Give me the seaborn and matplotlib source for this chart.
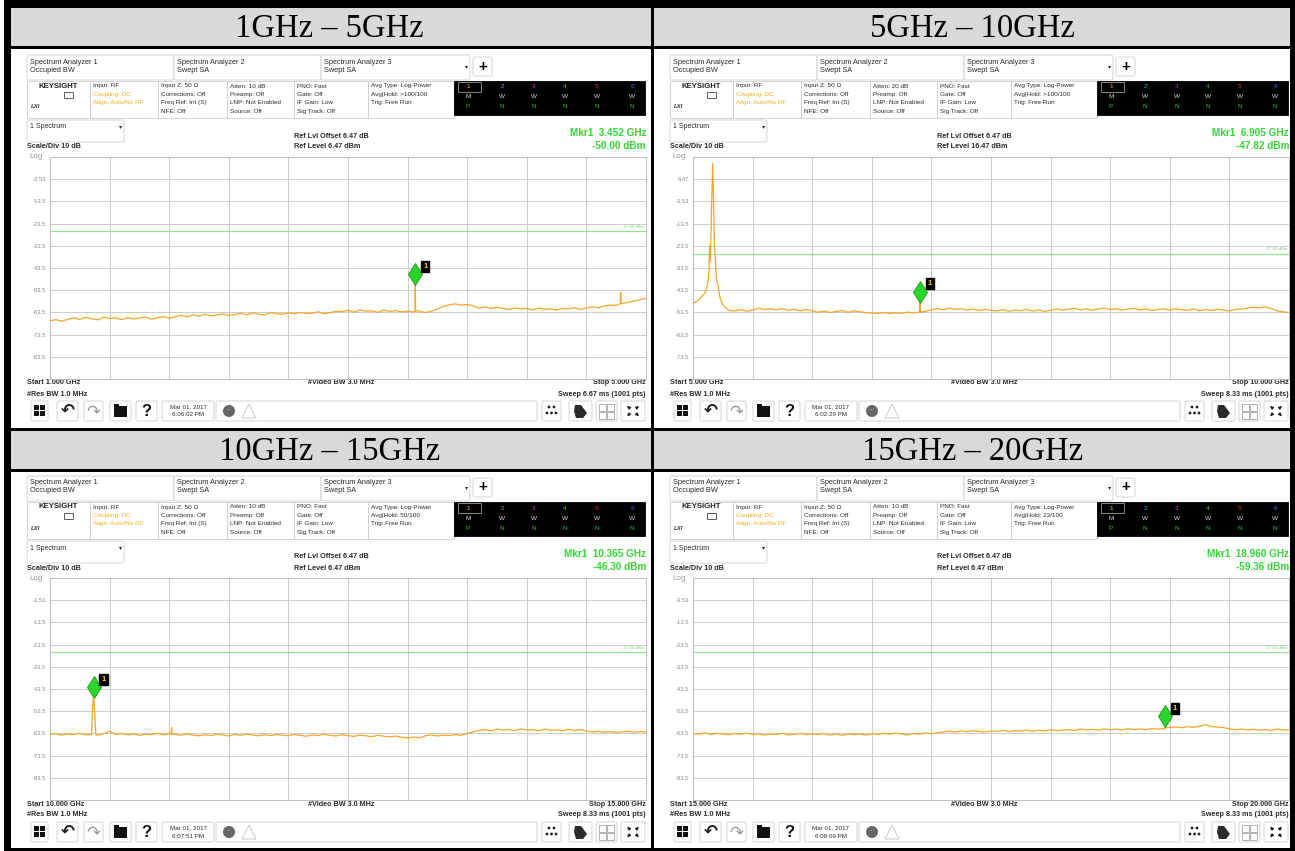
import numpy as np
import pandas as pd
import matplotlib
matplotlib.use("Agg")
import matplotlib.pyplot as plt
import seaborn as sns
from matplotlib.patches import Rectangle, FancyBboxPatch, Polygon, Circle
from matplotlib import transforms

# ---- values ----
titles = ["1GHz – 5GHz", "5GHz – 10GHz", "10GHz – 15GHz", "15GHz – 20GHz"]
start_ghz = [1.0, 5.0, 10.0, 15.0]
stop_ghz = [5.0, 10.0, 15.0, 20.0]
ref_level = [6.47, 16.47, 6.47, 6.47]
atten_db = [10, 20, 10, 10]
avg_hold = [">100/100", ">100/100", "50/100", "23/100"]
sweep_ms = ["6.67", "8.33", "8.33", "8.33"]
timestamps = ["6:06:02 PM", "6:02:29 PM", "6:07:51 PM", "6:08:09 PM"]
mkr_freq = [3.452, 6.905, 10.365, 18.960]
mkr_level = [-50.00, -47.82, -46.30, -59.36]
limit_dbm = -27.0

# noise floor, 101 points evenly over each span (dBm)
p1_floor = [-67.3, -66.8, -67.5, -66.6,
            -66.0, -66.7, -65.8, -66.4, -66.9, -65.7, -66.3, -66.0, -66.8, -65.9, -66.5, -66.1, -65.6, -66.6, -66.0, -65.4, -66.2,
            -65.5, -64.8, -65.6, -64.6, -65.2, -64.4, -65.0, -64.7, -64.2, -64.9,
            -64.5, -63.9, -64.6, -63.8, -64.3, -64.7, -63.6, -64.1, -64.4, -63.7, -64.2, -63.5, -64.0, -63.9, -63.2, -64.1, -63.6, -63.0,
            -63.2, -62.6, -63.4, -62.4, -63.0, -62.8, -63.5, -62.5, -63.1, -62.7, -63.3, -62.9,
            -63.4, -62.9, -63.6, -63.0, -62.0,
            -60.8, -60.1, -59.7, -60.3, -59.9, -60.6,
            -61.6, -61.0, -61.8, -61.2, -61.7,
            -62.2, -61.5, -62.0, -61.7, -62.4, -61.6, -62.1, -61.9, -62.5, -61.8, -62.0, -61.4, -62.2, -61.6,
            -61.0, -61.5, -60.6, -60.2, -60.4,
            -59.6, -59.0, -58.4, -57.8, -57.2]
p1_peak_freq = [3.450, 3.452, 3.454, 4.828, 4.830, 4.832]
p1_peak_level = [-63.0, -50.0, -62.8, -59.6, -54.5, -59.5]

p2_floor = [-49.6, -47.8, -44.8, -20.0, -39.0,
            -50.2, -52.6,
            -52.9, -52.3, -53.0, -52.5,
            -51.6, -52.2, -51.9, -52.4, -51.8, -52.6, -52.1, -52.8, -52.3, -52.9,
            -53.4, -52.9, -53.6, -53.1, -52.7, -53.5, -52.8, -53.2, -53.6, -53.9,
            -54.0, -53.6, -54.1, -53.7, -53.9, -53.4, -53.8, -53.3,
            -53.0, -52.4, -51.8, -52.3, -51.6, -52.1,
            -51.9, -52.5, -52.0, -52.7, -52.2, -52.6,
            -52.9, -52.3, -53.0, -52.5, -52.8, -52.2, -52.9, -52.4, -53.1, -52.6, -52.0, -52.5,
            -52.1, -51.7, -52.4, -51.9, -52.6, -52.0, -51.6, -52.3, -51.8, -52.5,
            -52.1, -51.7, -52.4, -52.0, -52.7, -52.2, -51.9, -52.5, -52.0, -52.3,
            -52.6, -52.0, -52.8, -52.3, -52.7, -52.1, -52.5, -52.9, -52.2, -52.0, -51.6,
            -51.2, -51.5, -51.0, -51.8,
            -52.8, -53.3, -53.5]
p2_peak_freq = [5.115, 5.125, 5.133, 5.140, 5.146, 5.156, 5.165, 5.172, 5.180, 5.188, 5.195,
                5.210, 5.225, 6.903, 6.905, 6.907]
p2_peak_level = [-42.5, -40.0, -35.5, -23.5, -30.5, -6.0, 13.5, -1.0, -24.0, -30.0, -37.5,
                 -41.5, -46.5, -53.6, -47.8, -53.4]

p3_floor = [-64.0, -63.6, -64.3, -63.8, -64.1, -63.5, -64.2,
            -64.0,
            -64.3, -63.7, -62.5, -64.0, -63.6, -64.2, -63.8, -64.4, -63.9, -64.1, -63.5, -64.2, -63.7,
            -64.0, -64.4, -63.8, -64.3, -64.6, -64.1, -64.5, -63.9, -64.2, -64.7, -64.0, -64.4, -63.8, -64.3, -64.6, -64.1, -64.5, -64.0,
            -64.3, -64.6, -64.0, -64.4, -64.8, -64.2, -64.5, -63.9, -64.4, -64.7, -64.1, -64.5, -64.9, -64.3, -64.6, -65.0, -64.4, -64.8, -65.1, -64.7,
            -65.3, -65.6, -65.2, -65.5,
            -64.6, -64.2, -64.7, -64.3, -64.5, -64.0, -64.4, -63.6, -62.8,
            -62.2, -61.8, -62.4, -61.6, -62.1, -61.7, -62.3, -61.5, -62.0, -61.8, -62.4, -61.6, -62.1, -61.9, -62.3, -61.7, -62.2, -61.8,
            -62.5, -62.9, -62.6, -63.0, -62.7, -63.1, -62.8, -62.6, -63.0, -62.7, -62.9]
p3_peak_freq = [10.345, 10.355, 10.365, 10.375, 10.385, 11.015, 11.020, 11.025]
p3_peak_level = [-64.0, -54.0, -46.3, -54.0, -64.2, -63.8, -60.9, -63.9]

p4_floor = [-63.6, -63.9, -63.3, -64.0, -63.5, -63.8, -64.2, -63.6, -63.9, -63.4, -64.1, -63.7, -64.3, -63.8, -64.0, -63.5, -64.2, -63.9, -63.6, -64.1, -63.8,
            -64.0, -63.6, -64.3, -63.9, -64.4, -63.7, -64.1, -63.8, -64.3, -63.6, -64.0, -63.5, -63.9, -63.4, -63.8, -64.2, -63.6, -63.9, -63.3, -63.7, -63.2,
            -62.9, -62.5, -63.0, -62.4, -62.8, -62.3, -62.7, -62.9, -62.4, -62.6, -62.2, -62.7, -62.3, -62.5, -62.0, -62.6, -62.1, -62.4, -61.9, -62.3, -62.0,
            -61.8, -62.2, -61.6, -62.0, -61.7, -62.1, -61.5, -61.9, -61.6, -62.0, -61.4, -61.8, -61.5, -61.9, -61.3, -61.7, -61.4,
            -60.9, -60.6, -61.0, -60.5, -60.8, -60.3, -59.6, -60.4, -60.7, -60.9,
            -61.5, -61.9, -61.6, -62.0, -61.7, -62.1, -61.8, -62.2, -61.6, -61.9, -62.0]
p4_peak_freq = [18.955, 18.960, 18.965]
p4_peak_level = [-61.6, -59.36, -61.0]

floors = [p1_floor, p2_floor, p3_floor, p4_floor]
peak_freqs = [p1_peak_freq, p2_peak_freq, p3_peak_freq, p4_peak_freq]
peak_levels = [p1_peak_level, p2_peak_level, p3_peak_level, p4_peak_level]

# ---- style ----
W, H = 1295, 851
TRACE = "#f3a62a"
TXT = "#2b2b2b"
BOXEC = "#cfcfcf"
MKR_GREEN = "#33d633"

sns.set_style("white")
plt.rcParams["font.family"] = ["Liberation Sans", "DejaVu Sans"]

fig = plt.figure(figsize=(W / 100, H / 100), dpi=100)
bg = fig.add_axes([0, 0, 1, 1])
bg.set_xlim(0, W)
bg.set_ylim(H, 0)
bg.axis("off")


def rect(x0, y0, x1, y1, fc="none", ec=BOXEC, lw=0.6, z=1):
    bg.add_patch(Rectangle((x0, y0), x1 - x0, y1 - y0, fc=fc, ec=ec, lw=lw, zorder=z))


def rbox(x0, y0, x1, y1, fc="white", ec=BOXEC, lw=0.6, r=2):
    bg.add_patch(FancyBboxPatch((x0 + r, y0 + r), x1 - x0 - 2 * r, y1 - y0 - 2 * r,
                                boxstyle=f"round,pad={r}", fc=fc, ec=ec, lw=lw, zorder=2))


def txt(x, y, s, size=5.3, color=TXT, ha="left", va="center", **kw):
    bg.text(x, y, s, fontsize=size, color=color, ha=ha, va=va, zorder=4, **kw)


# ---- table frame ----
rect(11, 8, 1291, 46, fc="#d9d9d9", ec="none")
rect(11, 431, 1291, 469, fc="#d9d9d9", ec="none")
for (x0, y0, x1, y1) in [(4, 0, 1295, 8), (4, 0, 11, 851), (1290, 0, 1295, 851), (4, 848, 1295, 851),
                         (4, 46, 1295, 49), (4, 428, 1295, 431), (4, 469, 1295, 472), (651, 0, 654, 851)]:
    rect(x0, y0, x1, y1, fc="black", ec="none", z=3)

cols = [11, 654]
rows = [49, 470]
title_base = [37, 460]


def draw_screen(i, cx, ry):
    X = lambda v: cx + v
    Y = lambda v: ry + v
    # tabs
    for k, (a, b, sub) in enumerate([(16, 163, "Occupied BW"), (163, 310, "Swept SA"), (310, 459, "Swept SA")]):
        rbox(X(a), Y(6), X(b), Y(31))
        txt(X(a + 3), Y(13), f"Spectrum Analyzer {k + 1}")
        txt(X(a + 3), Y(21), sub)
    txt(X(454), Y(18), "▾", size=4.5)
    rbox(X(462), Y(8), X(481), Y(27))
    txt(X(471.5), Y(17.5), "+", size=11, ha="center", fontweight="bold", color="black")

    # instrument info row
    rect(X(16), Y(32), X(79), Y(69))
    txt(X(47.5), Y(37), "KEYSIGHT", size=5.6, ha="center", fontweight="bold", color="#222")
    rect(X(53), Y(43), X(62), Y(49), ec="#444", lw=0.6)
    txt(X(20), Y(58), "LXI", size=4.3, fontweight="bold", style="italic", color="#333")
    info = [
        (79, 147, [("Input: RF", TXT), ("Coupling: DC", "#f0b020"), ("Align: Auto/No RF", "#f0b020")]),
        (147, 216, [("Input Z: 50 Ω", TXT), ("Corrections: Off", TXT), ("Freq Ref: Int (S)", TXT), ("NFE: Off", TXT)]),
        (216, 283, [(f"Atten: {atten_db[i]} dB", TXT), ("Preamp: Off", TXT), ("LNP: Not Enabled", TXT), ("Source: Off", TXT)]),
        (283, 357, [("PNO: Fast", TXT), ("Gate: Off", TXT), ("IF Gain: Low", TXT), ("Sig Track: Off", TXT)]),
        (357, 443, [("Avg Type: Log-Power", TXT), (f"Avg|Hold: {avg_hold[i]}", TXT), ("Trig: Free Run", TXT)]),
    ]
    for a, b, lines in info:
        rect(X(a), Y(32), X(b), Y(69))
        for n, (s, c) in enumerate(lines):
            txt(X(a + 3), Y(37 + 8.4 * n), s, size=4.6, color=c)

    # trace table
    rect(X(443), Y(32), X(634), Y(66), fc="black", ec="black")
    num_colors = ["#e8c21a", "#1cc6c6", "#d23cd2", "#3cc83c", "#e03030", "#3a6cf0"]
    tx = [457, 491, 523, 554, 586, 621]
    rect(X(447), Y(33), X(470), Y(43), ec="#9a9a9a", lw=0.6, z=3)
    for k in range(6):
        txt(X(tx[k]), Y(38), str(k + 1), size=4.6, ha="center", color=num_colors[k])
        txt(X(tx[k]), Y(48), "M" if k == 0 else "W", size=4.6, ha="center", color="#d8d8d8")
        txt(X(tx[k]), Y(58), "P" if k == 0 else "N", size=4.6, ha="center", color="#2fbf2f")

    # settings line
    rbox(X(16), Y(71), X(113), Y(93))
    txt(X(19), Y(78), "1 Spectrum", size=5.0)
    txt(X(108), Y(78), "▾", size=4.5)
    txt(X(16), Y(98), "Scale/Div 10 dB", size=5.2, fontweight="bold")
    txt(X(18), Y(108), "Log", size=5.8, color="#999999")
    txt(X(283), Y(87), "Ref Lvl Offset 6.47 dB", size=5.2, fontweight="bold")
    txt(X(283), Y(98), f"Ref Level {ref_level[i]:.2f} dBm", size=5.2, fontweight="bold")
    txt(X(635), Y(84), f"Mkr1  {mkr_freq[i]:.3f} GHz", size=7.2, ha="right", fontweight="bold", color=MKR_GREEN)
    txt(X(635), Y(97), f"{mkr_level[i]:.2f} dBm", size=7.2, ha="right", fontweight="bold", color=MKR_GREEN)

    # footer
    txt(X(16), Y(334), f"Start {start_ghz[i]:.3f} GHz", size=5.2, fontweight="bold")
    txt(X(16), Y(345), "#Res BW 1.0 MHz", size=5.2, fontweight="bold")
    txt(X(330), Y(334), "#Video BW 3.0 MHz", size=5.2, ha="center", fontweight="bold")
    txt(X(635), Y(334), f"Stop {stop_ghz[i]:.3f} GHz", size=5.2, ha="right", fontweight="bold")
    txt(X(635), Y(345), f"Sweep {sweep_ms[i]} ms (1001 pts)", size=5.2, ha="right", fontweight="bold")

    # toolbar
    t0, t1 = 352, 372
    for a, b in [(20, 37), (46, 67), (73, 92), (99, 120), (125, 146), (151, 203), (205, 526),
                 (531, 550), (558, 581), (585, 606), (610, 634)]:
        rbox(X(a), Y(t0), X(b), Y(t1), r=1.5)
    for (a, b) in [(23, 356), (29, 356), (23, 362), (29, 362)]:
        rect(X(a), Y(b), X(a + 5), Y(b + 5), fc="#111", ec="none", z=3)
    bg.text(X(56.5), Y(362), "↶", fontsize=12, family="DejaVu Sans", fontweight="bold",
            ha="center", va="center", color="#222", zorder=4)
    bg.text(X(82.5), Y(362), "↷", fontsize=12, family="DejaVu Sans",
            ha="center", va="center", color="#9a9a9a", zorder=4)
    rect(X(103), Y(357), X(116), Y(368), fc="#111", ec="none", z=3)
    rect(X(103), Y(355), X(108), Y(358), fc="#111", ec="none", z=3)
    txt(X(135.5), Y(362.5), "?", size=12, ha="center", fontweight="bold", color="#111")
    txt(X(177), Y(358), "Mar 01, 2017", size=4.5, ha="center")
    txt(X(177), Y(366), timestamps[i], size=4.5, ha="center")
    bg.add_patch(Circle((X(218), Y(362)), 6, fc="#666666", ec="none", zorder=3))
    txt(X(218), Y(361), "···", size=4, ha="center", color="white")
    bg.add_patch(Polygon([(X(231), Y(369)), (X(238), Y(355)), (X(245), Y(369))],
                         closed=True, fc="none", ec="#cfcfcf", lw=0.8, zorder=3))
    for (a, b) in [(538, 358), (543, 358), (536, 364), (540.5, 364), (545, 364)]:
        bg.add_patch(Circle((X(a), Y(b)), 1.4, fc="#222", ec="none", zorder=3))
    bg.add_patch(Polygon([(X(564), Y(356)), (X(570), Y(356)), (X(576), Y(364)),
                          (X(572), Y(369)), (X(565), Y(369)), (X(563), Y(362))],
                         closed=True, fc="#2a2a2a", ec="none", zorder=3))
    for (a, b) in [(588, 355), (596, 355), (588, 363), (596, 363)]:
        rect(X(a), Y(b), X(a + 7), Y(b + 7), ec="#b0b0b0", lw=0.7, z=3)
    for dx, dy in [(-1, -1), (1, -1), (-1, 1), (1, 1)]:
        bg.annotate("", xy=(X(622 + 8 * dx), Y(362 + 7 * dy)), xytext=(X(622 + 2.5 * dx), Y(362 + 2 * dy)),
                    arrowprops=dict(arrowstyle="-|>", color="#222", lw=0.9, mutation_scale=4), zorder=4)

    # spectrum plot
    x0, x1, y0, y1 = X(39), X(635), Y(108), Y(330)
    ax = fig.add_axes([x0 / W, 1 - y1 / H, (x1 - x0) / W, (y1 - y0) / H])
    fg = np.linspace(start_ghz[i], stop_ghz[i], len(floors[i]))
    fx = np.concatenate([fg, peak_freqs[i]])
    fy = np.concatenate([floors[i], peak_levels[i]])
    order = np.argsort(fx, kind="stable")
    df = pd.DataFrame({"freq": fx[order], "level": fy[order]})
    sns.lineplot(data=df, x="freq", y="level", ax=ax, color=TRACE, linewidth=0.9,
                 estimator=None, sort=False, zorder=3)
    ref = ref_level[i]
    ax.set_xlim(start_ghz[i], stop_ghz[i])
    ax.set_ylim(ref - 100, ref)
    ax.set_xticks(np.linspace(start_ghz[i], stop_ghz[i], 11))
    ax.set_xticklabels([])
    yv = [ref - 10 * k for k in range(10, -1, -1)]
    ylab = []
    for k, v in enumerate(yv):
        if k == 0 or k == 10:
            ylab.append("")
        else:
            ylab.append(f"{v:.2f}" if abs(v) < 10 else f"{v:.1f}")
    ax.set_yticks(yv)
    ax.set_yticklabels(ylab)
    ax.tick_params(length=0, labelsize=4.2, labelcolor="#8a8a8a", pad=3)
    ax.set_xlabel("")
    ax.set_ylabel("")
    ax.grid(True, color="#cbcbcb", lw=0.7)
    for sp in ax.spines.values():
        sp.set_color("#bdbdbd")
        sp.set_linewidth(0.7)
    ax.axhline(limit_dbm, color="#8fe88f", lw=0.9, zorder=2)
    ax.text(0.997, limit_dbm + 1.2, f"{limit_dbm:.2f} dBm", transform=transforms.blended_transform_factory(ax.transAxes, ax.transData),
            fontsize=3.2, color="#7ad87a", ha="right", va="bottom")
    # marker 1
    tr = transforms.offset_copy(ax.transData, fig=fig, x=0, y=8, units="dots")
    ax.plot([mkr_freq[i]], [mkr_level[i]], marker="d", ms=11.5, mfc="#2bd62b", mec="#169a16",
            mew=0.6, ls="none", transform=tr, zorder=6, clip_on=False)
    ax.annotate("1", xy=(mkr_freq[i], mkr_level[i]), xytext=(10, 16), textcoords="offset pixels",
                fontsize=5.5, fontweight="bold", color="#ffd21a", ha="center", va="center",
                bbox=dict(boxstyle="square,pad=0.25", fc="black", ec="black"), zorder=7)


for i in range(4):
    r, c = divmod(i, 2)
    draw_screen(i, cols[c], rows[r])
    bg.text((cols[c] + (cols[c] + 637)) / 2, title_base[r], titles[i], fontsize=23.5,
            family="Liberation Serif", ha="center", va="baseline", color="black", zorder=4)

fig.savefig("out.png", dpi=100)
